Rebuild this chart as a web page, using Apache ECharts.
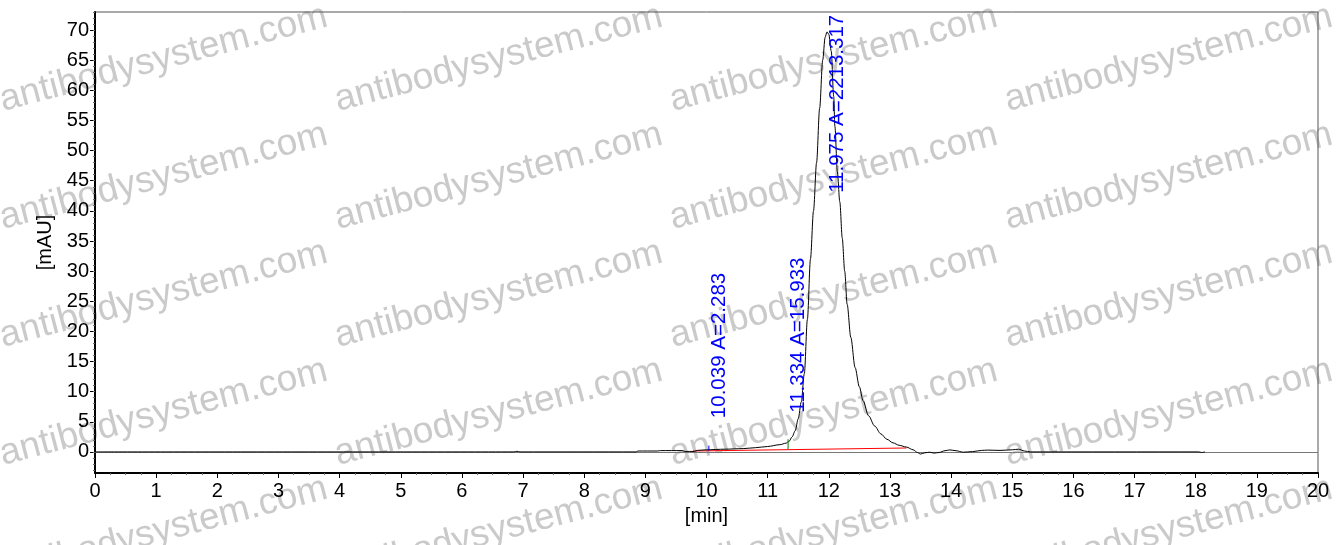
<!DOCTYPE html>
<html>
<head>
<meta charset="utf-8">
<script src="https://cdn.jsdelivr.net/npm/echarts@6/dist/echarts.min.js"></script>
<style>
html,body{margin:0;padding:0;background:#fff;}
#c{width:1338px;height:545px;}
</style>
</head>
<body>
<div id="c"></div>
<script>
// ---- data ----
const times = [0, 6.85, 6.9, 6.95, 8.85, 8.88, 9.2, 9.25, 9.6, 9.65, 9.8, 9.85, 10.0, 10.3, 10.6, 10.8, 11.0, 11.2, 11.3, 11.35, 11.4, 11.45, 11.5, 11.55, 11.6, 11.65, 11.7, 11.75, 11.8, 11.85, 11.9, 11.94, 11.97, 12.0, 12.04, 12.08, 12.1, 12.14, 12.18, 12.22, 12.26, 12.3, 12.36, 12.43, 12.5, 12.56, 12.65, 12.75, 12.85, 12.95, 13.05, 13.15, 13.27, 13.38, 13.45, 13.5, 13.57, 13.65, 13.72, 13.8, 13.9, 13.98, 14.08, 14.2, 14.35, 14.5, 14.6, 14.8, 15.0, 15.1, 15.2, 15.3, 18.05, 18.1, 18.15];
const signal = [0, 0, 0.1, 0, 0, 0.15, 0.15, 0.22, 0.22, 0.08, 0.08, 0.25, 0.35, 0.45, 0.55, 0.7, 0.9, 1.2, 1.45, 1.75, 2.5, 3.5, 5.5, 8.3, 13, 22, 32, 40, 48, 57, 65, 68.8, 69.7, 69.3, 66.5, 59, 54, 46.5, 41.5, 35.5, 30, 24.5, 19, 14, 10.8, 8.5, 6, 4.3, 3.0, 2.1, 1.5, 1.1, 0.8, 0.35, -0.1, -0.35, -0.15, -0.05, -0.2, -0.1, 0.2, 0.33, 0.2, -0.05, 0.05, 0.25, 0.3, 0.25, 0.35, 0.45, 0.15, 0, 0, -0.1, 0];
const peakTimes = [10.039, 11.334, 11.975];
const peakAreas = [2.283, 15.933, 2213.317];
const labelBase = [5.6, 6.5, 43.0];
const baselineSeg = [[9.78, 0.15], [13.27, 0.65]];
const tickBlue = [[10.039, 0.2], [10.039, 1.05]];
const tickGreen = [[11.334, 0.45], [11.334, 2.1]];
const xTicks = [0, 20, 1];
const yMajor = [0, 5, 10, 15, 20, 25, 30, 35, 40, 45, 50, 55, 60, 65, 70];
const yRange = [-3.5, 73];
const watermark = 'antibodysystem.com';

// ---- build ----
const FONT = '"Liberation Sans", Arial, sans-serif';
const curve = times.map((t, i) => [t, signal[i]]);
const labels = peakTimes.map((t, i) => t.toFixed(3) + ' A=' + peakAreas[i].toFixed(3));
const annData = peakTimes.map((t, i) => [t, labelBase[i]]);
const yMinor = [];
for (let v = -3; v <= 73; v++) yMinor.push(v);

const wm = [];
for (let i = 0; i < 4; i++) {
  for (let j = 0; j < 5; j++) {
    wm.push({
      type: 'text', z: -10, silent: true,
      x: 5 + 335 * i, y: 119 + 118 * j,
      rotation: 0.255,
      style: { text: watermark, fontSize: 37, fontFamily: FONT, fill: '#cacaca', align: 'left', verticalAlign: 'bottom' }
    });
  }
}

const chart = echarts.init(document.getElementById('c'), null, { renderer: 'canvas' });
chart.setOption({
  animation: false,
  backgroundColor: '#fff',
  graphic: { elements: wm },
  grid: { left: 95, right: 20, top: 12, bottom: 72, show: true, borderColor: '#555', borderWidth: 1, backgroundColor: 'transparent' },
  xAxis: {
    type: 'value', min: xTicks[0], max: xTicks[1], interval: xTicks[2],
    name: '[min]', nameLocation: 'middle', nameGap: 33,
    nameTextStyle: { fontSize: 20, color: '#000', fontFamily: FONT },
    axisLine: { show: true, onZero: false, lineStyle: { color: '#000', width: 2 } },
    axisTick: { show: true, length: 5, lineStyle: { color: '#000', width: 1 } },
    minorTick: { show: true, splitNumber: 4, length: 2, lineStyle: { color: '#666', width: 1 } },
    axisLabel: { fontSize: 20, color: '#000', fontFamily: FONT, margin: 8 },
    splitLine: { show: false }, minorSplitLine: { show: false }
  },
  yAxis: [{
    type: 'value', min: yRange[0], max: yRange[1],
    name: '[mAU]', nameLocation: 'middle', nameGap: 40,
    nameTextStyle: { fontSize: 20, color: '#000', fontFamily: FONT },
    axisLine: { show: true, onZero: false, lineStyle: { color: '#000', width: 2 } },
    axisTick: { show: true, length: 5, customValues: yMajor, lineStyle: { color: '#000', width: 1 } },
    axisLabel: { fontSize: 20, color: '#000', fontFamily: FONT, margin: 6, customValues: yMajor },
    splitLine: { show: false }
  }, {
    type: 'value', min: yRange[0], max: yRange[1], position: 'left',
    axisLine: { show: false },
    axisTick: { show: true, length: 2, customValues: yMinor, lineStyle: { color: '#666', width: 1 } },
    axisLabel: { show: false, customValues: yMinor },
    splitLine: { show: false }
  }],
  series: [{
    type: 'line', data: curve, showSymbol: false, smooth: 0.3, smoothMonotone: 'x',
    lineStyle: { color: '#000', width: 1 }, z: 5,
    markLine: {
      silent: true, symbol: 'none', label: { show: false },
      lineStyle: { color: '#777', width: 1, type: 'solid' },
      data: [{ yAxis: 0 }]
    }
  }, {
    type: 'line', data: baselineSeg, showSymbol: false, lineStyle: { color: '#ff0000', width: 1 }, z: 4
  }, {
    type: 'line', data: tickBlue, showSymbol: false, lineStyle: { color: '#0000ff', width: 1 }, z: 6
  }, {
    type: 'line', data: tickGreen, showSymbol: false, lineStyle: { color: '#008000', width: 1 }, z: 6
  }, {
    type: 'custom', data: annData, z: 7, clip: true,
    renderItem: function (params, api) {
      const p = api.coord([api.value(0), api.value(1)]);
      return {
        type: 'text', x: p[0], y: p[1], rotation: Math.PI / 2,
        style: { text: labels[params.dataIndex], fontSize: 20.5, fontFamily: FONT, fill: '#0000ff', align: 'left', verticalAlign: 'top' }
      };
    }
  }]
});
</script>
</body>
</html>
